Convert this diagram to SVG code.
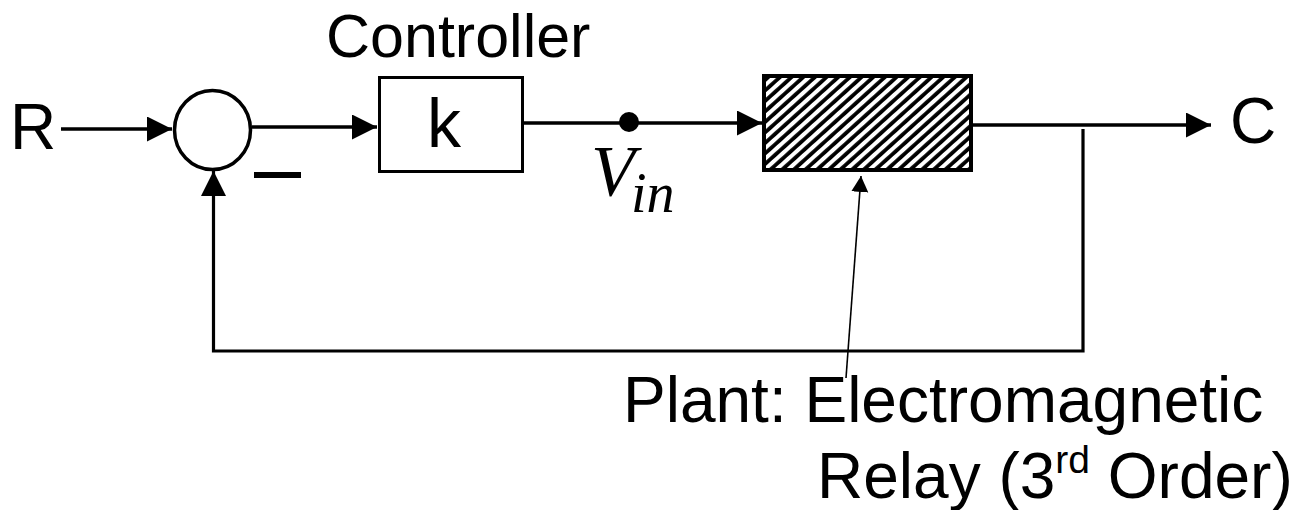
<svg xmlns="http://www.w3.org/2000/svg" width="1298" height="510" viewBox="0 0 1298 510">
<style>
.ln{fill:none;stroke:#000;stroke-width:3.5}
.fb{fill:none;stroke:#000;stroke-width:3.2}
.box{fill:#fff;stroke:#000;stroke-width:3}
.t{font-family:"Liberation Sans",Arial,sans-serif;fill:#000}
.m{font-family:"Liberation Serif","Times New Roman",serif;font-style:italic;fill:#000}
</style>
<defs>
<marker id="ah" markerUnits="userSpaceOnUse" markerWidth="26" markerHeight="26" refX="25" refY="12.5" orient="auto">
<path d="M0,0 L25,12.5 L0,25 Z" fill="#000"/>
</marker>
<marker id="ahs" markerUnits="userSpaceOnUse" markerWidth="17" markerHeight="18" refX="16" refY="8.5" orient="auto">
<path d="M0,0 L16,8.5 L0,17 Z" fill="#000"/>
</marker>
<pattern id="hatch" patternUnits="userSpaceOnUse" width="7.8" height="20" patternTransform="rotate(48)">
<rect width="7.8" height="20" fill="#fff"/>
<line x1="2" y1="0" x2="2" y2="20" stroke="#000" stroke-width="3.8"/>
</pattern>
</defs>
<g id="connectors">
<path class="ln" d="M61,129 H172" marker-end="url(#ah)"/>
<path class="ln" d="M252,127 H377" marker-end="url(#ah)"/>
<path class="ln" d="M524,123 H762" marker-end="url(#ah)"/>
<path class="ln" d="M973,125 H1211" marker-end="url(#ah)"/>
<path class="fb" d="M1083,129 V351 H213.5 V171" marker-end="url(#ah)"/>
<path d="M846,378 L861,176" fill="none" stroke="#000" stroke-width="1.6" marker-end="url(#ahs)"/>
<circle cx="629" cy="122" r="10" fill="#000"/>
</g>
<g id="input-R"><text class="t" x="10" y="149" font-size="64">R</text></g>
<g id="output-C"><text class="t" x="1230" y="143" font-size="64">C</text></g>
<g id="summer">
<ellipse cx="212.5" cy="130" rx="38" ry="39.5" fill="#fff" stroke="#000" stroke-width="3.5"/>
<rect x="254" y="172" width="47" height="6" fill="#000"/>
</g>
<g id="controller">
<text class="t" x="326" y="57" font-size="61">Controller</text>
<rect class="box" x="379.5" y="77.5" width="143" height="94"/>
<text class="t" x="427" y="147" font-size="68">k</text>
</g>
<g id="vin-label">
<text class="m" x="591" y="195" font-size="72">V</text>
<text class="m" x="631" y="212" font-size="56">in</text>
</g>
<g id="plant">
<rect x="764" y="76" width="207" height="94" fill="url(#hatch)" stroke="#000" stroke-width="4"/>
</g>
<g id="plant-label">
<text class="t" x="623" y="422" font-size="64">Plant: Electromagnetic</text>
<text class="t" x="817" y="498" font-size="64">Relay (3<tspan font-size="39" dy="-25">rd</tspan><tspan dy="25"> Order)</tspan></text>
</g>
</svg>
